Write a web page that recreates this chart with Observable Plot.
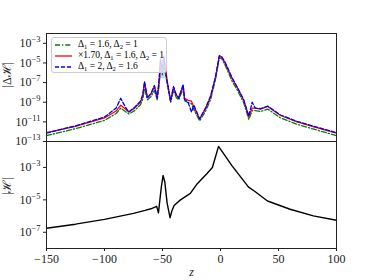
<!DOCTYPE html>
<html><head><meta charset="utf-8">
<script src="https://cdn.jsdelivr.net/npm/d3@7"></script>
<script src="https://cdn.jsdelivr.net/npm/@observablehq/plot@0.6"></script>
<style>
body{margin:0;background:#fff}
#c{position:relative;width:374px;height:280px;font-family:"Liberation Serif",serif;overflow:hidden}
#c svg{position:absolute;left:0;overflow:visible}
#leg{position:absolute;left:51px;top:37px;width:114px;height:34px;border:1px solid #ccc;border-radius:3px;background:rgba(255,255,255,0.8);font-size:9.5px;color:#000}
#leg .row{position:absolute;left:2px;height:10px;white-space:nowrap}
#leg .row svg{position:absolute;left:0;top:0}
#leg .row span{position:absolute;left:24px;top:-1px;line-height:11px}
#leg sub{font-size:6.5px;vertical-align:-2px;line-height:0}
</style></head>
<body><div id="c"></div>
<script>
// ---- data: upper panel, log10 of |ΔH| ----
const zUpper = [-150,-125,-100,-90,-86,-82,-79,-74,-69,-67,-65.5,-63,-60,-57,-54.6,-53,-51.7,-50,-48.9,-47,-46,-43,-40.5,-38,-36,-32.2,-31,-28,-25,-23,-18,-13,-8.6,-4.3,-1,1,4.3,10,14.4,20,24.4,27.3,30,34.5,40.8,45,51.7,66,80.5,100];
const greenExp = [-12.4,-11.7,-10.85,-10.15,-9.6,-9.95,-10.2,-9.85,-9.25,-8.7,-7.6,-8.75,-8.45,-7.8,-8.75,-7.4,-5.6,-6.2,-5.2,-6.4,-7.1,-9.0,-7.8,-8.55,-8.75,-7.6,-8.85,-9.05,-9.15,-9.75,-10.9,-9.95,-8.75,-6.7,-4.45,-4.55,-5.3,-6.85,-7.75,-9.05,-10.75,-9.85,-9.85,-9.95,-9.7,-10.05,-10.6,-11.25,-11.75,-12.4];
const redExp = [-12.1,-11.45,-10.6,-9.9,-9.3,-9.7,-10.0,-9.6,-9.0,-8.4,-7.0,-8.5,-8.2,-7.4,-8.5,-7.0,-4.9,-5.5,-4.4,-5.8,-6.8,-8.8,-7.5,-8.3,-8.5,-7.3,-8.6,-8.8,-8.9,-9.5,-10.7,-9.7,-8.5,-6.45,-4.3,-4.4,-5.1,-6.6,-7.5,-8.8,-10.5,-9.6,-9.6,-9.7,-9.43,-9.8,-10.35,-11.0,-11.5,-12.15];
const blueExp = [-12.15,-11.4,-10.5,-9.6,-8.6,-9.5,-10.0,-9.5,-8.9,-8.2,-6.9,-8.6,-8.1,-7.3,-8.6,-6.8,-4.6,-6.0,-4.3,-6.2,-6.9,-8.9,-7.4,-8.3,-8.6,-7.2,-8.7,-9.0,-10.0,-9.3,-10.7,-9.6,-8.4,-6.4,-4.25,-4.35,-5.0,-6.5,-7.45,-8.75,-10.4,-9.0,-9.6,-9.65,-9.4,-9.75,-10.3,-10.95,-11.45,-12.1];
// shaded band of the rapidly oscillating blue curve near z = -50
const zBand = [-52.5,-50,-47.5];
const bandLoExp = [-6.6,-6.6,-6.6];
const bandHiExp = [-4.7,-4.7,-4.7];
// ---- data: lower panel, log10 of |H| ----
const zLower = [-150,-125,-100,-75,-65,-60,-55,-53.5,-51,-49.5,-48,-46,-43.5,-42,-40,-34.5,-26,-20,-12,-7,-1.7,10,24,30,40.5,60,80,100];
const hExp = [-6.75,-6.5,-6.2,-5.83,-5.65,-5.55,-5.4,-5.8,-4.2,-3.5,-3.9,-5.2,-6.1,-5.7,-5.35,-5.0,-4.6,-4.0,-3.4,-3.0,-1.7,-2.9,-4.2,-4.5,-5.07,-5.58,-5.99,-6.26];
// ---- ticks & labels ----
const upperTicks = [1e-3,1e-5,1e-7,1e-9,1e-11,1e-13];
const lowerTicks = [1e-3,1e-5,1e-7];
const xTicks = [-150,-100,-50,0,50,100];
const seriesNames = ["Δ1 = 1.6, Δ2 = 1", "×1.70, Δ1 = 1.6, Δ2 = 1", "Δ1 = 2, Δ2 = 1.6"];

const toRows = (zs, es) => zs.map((z,i)=>({z, v: 10**es[i]}));
const green = toRows(zUpper, greenExp), red = toRows(zUpper, redExp), blue = toRows(zUpper, blueExp);
const band = zBand.map((z,i)=>({z, lo:10**bandLoExp[i], hi:10**bandHiExp[i]}));
const hRows = toRows(zLower, hExp);

const fmtLog = d => "10^" + Math.round(Math.log10(d));
const fmtX = d => String(d).replace("-", "\u2212");
const style = {fontFamily:"'Liberation Serif', serif", fontSize:"12px", color:"#222", background:"transparent", overflow:"visible"};

const upper = Plot.plot({
  width:374, height:141, marginLeft:46, marginRight:38, marginTop:33, marginBottom:0,
  style,
  x:{domain:[-150,100], axis:null},
  y:{type:"log", domain:[1e-13, 1e-2], axis:null},
  marks:[
    Plot.areaY(band, {x:"z", y1:"lo", y2:"hi", fill:"#aeb0f0", fillOpacity:0.6}),
    Plot.line(green, {x:"z", y:"v", stroke:"#008000", strokeWidth:1.3, strokeDasharray:"5,2,1.3,2"}),
    Plot.line(red, {x:"z", y:"v", stroke:"#ff0000", strokeWidth:1.3}),
    Plot.line(blue, {x:"z", y:"v", stroke:"#0000ff", strokeWidth:1.3, strokeDasharray:"4,2"}),
    Plot.axisY(upperTicks, {tickFormat: fmtLog, tickSize:3, tickPadding:3, label:null, stroke:"#222"}),
    Plot.frame({stroke:"#222"}),
    Plot.text(["|Δℋ|"], {frameAnchor:"left", dx:-39, rotate:-90, fontSize:12, fill:"#222"})
  ]
});

const lower = Plot.plot({
  width:374, height:139, marginLeft:46, marginRight:38, marginTop:0, marginBottom:32,
  style,
  x:{domain:[-150,100], axis:null},
  y:{type:"log", domain:[1e-8, 10**-1.4], axis:null},
  marks:[
    Plot.line(hRows, {x:"z", y:"v", stroke:"#000", strokeWidth:1.4}),
    Plot.axisY(lowerTicks, {tickFormat: fmtLog, tickSize:3, tickPadding:3, label:null, stroke:"#222"}),
    Plot.axisX(xTicks, {tickFormat: fmtX, tickSize:3, tickPadding:3, label:null, stroke:"#222"}),
    Plot.frame({stroke:"#222"}),
    Plot.text(["|ℋ|"], {frameAnchor:"left", dx:-39, rotate:-90, fontSize:12, fill:"#222"}),
    Plot.text(["z"], {frameAnchor:"bottom", dy:27, fontSize:12, fontStyle:"italic", fill:"#222"})
  ]
});

upper.style.top = "0px";
lower.style.top = "141px";
const c = document.getElementById("c");
c.appendChild(upper); c.appendChild(lower);

// render 10^n tick labels with superscripts; italicise z
for (const t of c.querySelectorAll("text")) {
  const m = /^10\^(-?\d+)$/.exec(t.textContent);
  if (m) {
    t.textContent = "10";
    const s = document.createElementNS("http://www.w3.org/2000/svg","tspan");
    s.setAttribute("dy","-5"); s.setAttribute("font-size","8.5");
    s.textContent = m[1].replace("-", "\u2212");
    t.appendChild(s);
  } else if (t.textContent === "z") {
    t.setAttribute("font-style", "italic");
    t.style.fontStyle = "italic";
  }
}

// legend
const leg = document.createElement("div"); leg.id = "leg";
const legStyles = [
  {stroke:"#008000", dash:"5,2,1.3,2"},
  {stroke:"#ff0000", dash:""},
  {stroke:"#0000ff", dash:"4,2"}
];
const tops = [2, 13, 24];
seriesNames.forEach((name,i)=>{
  const row = document.createElement("div"); row.className="row"; row.style.top = tops[i]+"px";
  row.innerHTML = `<svg width="20" height="10"><line x1="1" y1="5" x2="18" y2="5" stroke="${legStyles[i].stroke}" stroke-width="1.3" ${legStyles[i].dash?`stroke-dasharray="${legStyles[i].dash}"`:""}/></svg>` +
    `<span>${name.replace(/Δ(\d)/g, "Δ<sub>$1</sub>")}</span>`;
  leg.appendChild(row);
});
c.appendChild(leg);
</script></body></html>
